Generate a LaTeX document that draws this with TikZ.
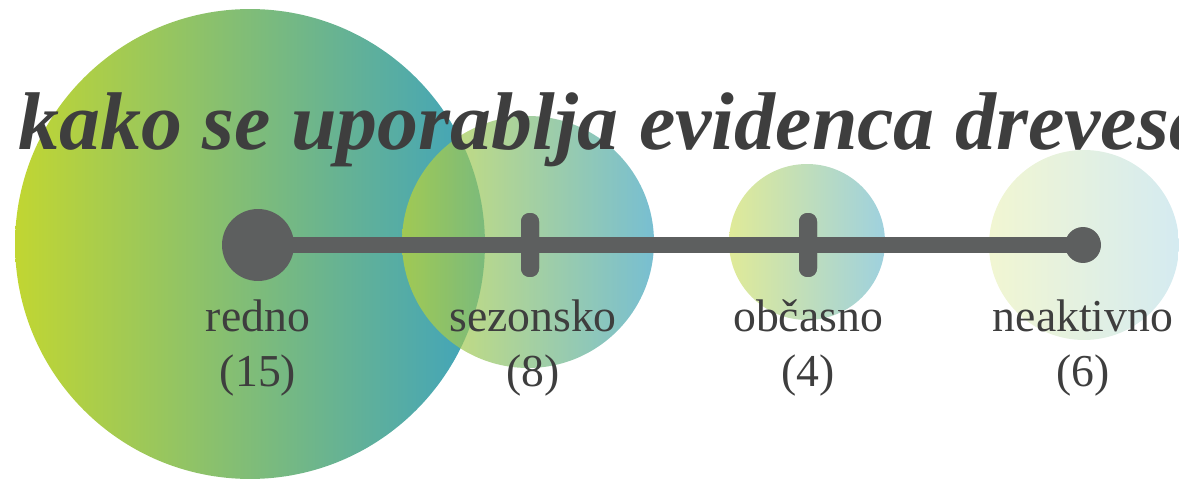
\documentclass[tikz,border=0pt]{standalone}
\usepackage{fontspec}
\setmainfont{Liberation Serif}
\usetikzlibrary{positioning}
\definecolor{leafgreen}{RGB}{193,214,50}
\definecolor{seateal}{RGB}{62,163,190}
\definecolor{linegray}{RGB}{93,95,95}
\definecolor{inkgray}{RGB}{62,62,62}
\tikzset{
	bubble/.style={left color=leafgreen, right color=seateal},
	enddot/.style={circle, fill=linegray, inner sep=0pt},
	notch/.style={rectangle, fill=linegray, inner sep=0pt, minimum width=0.36cm, minimum height=1.28cm, rounded corners=0.17cm},
	% stage names and counts under the line
	stagename/.style={anchor=base, inner sep=0pt, text=inkgray, font=\fontsize{26}{28}\selectfont},
	stagecount/.style={anchor=base, inner sep=0pt, text=inkgray, font=\fontsize{26}{28}\selectfont},
	headline/.style={anchor=base west, inner sep=0pt, text=inkgray, font=\fontsize{46.6}{50}\selectfont\bfseries\itshape},
}

\begin{document}
\begin{tikzpicture}[x=0.02cm, y=0.02cm]
	\useasboundingbox (0,0) rectangle (1179,480);
	\clip (0,0) rectangle (1179,480);
	
	% bubbles, one per stage
	\shade [bubble] (250,236) circle [radius=4.7cm];
	\shade [bubble, opacity=0.7] (528,238) circle [radius=2.52cm];
	\shade [bubble, opacity=0.5] (807,238) circle [radius=1.56cm];
	\shade [bubble, opacity=0.22] (1084,235) circle [radius=1.9cm];
	
	\node (title) [headline] at (18,330) {kako se uporablja evidenca drevesa?};
	
	\node (s1) [enddot, minimum size=1.44cm] at (258,235) {};
	\node (s2) [notch] at (530,235) {};
	\node (s3) [notch] at (808,235) {};
	\node (s4) [enddot, minimum size=0.72cm] at (1083,235) {};
	
	\draw [linegray, line width=0.32cm] (s1.center) -- (s4.center);
	\node [notch] at (s2) {};
	\node [notch] at (s3) {};
	
	\node (n1) [stagename] at ([yshift=-1.74cm]s1.center) {redno};
	\node (n2) [stagename] at ([yshift=-1.74cm, xshift=0.06cm]s2.center) {sezonsko};
	\node (n3) [stagename] at ([yshift=-1.74cm]s3.center) {občasno};
	\node (n4) [stagename] at ([yshift=-1.74cm]s4.center) {neaktivno};
	
	\node (c1) [stagecount] at ([yshift=-1.1cm]n1.base) {(15)};
	\node (c2) [stagecount] at ([yshift=-1.1cm]n2.base) {(8)};
	\node (c3) [stagecount] at ([yshift=-1.1cm]n3.base) {(4)};
	\node (c4) [stagecount] at ([yshift=-1.1cm]n4.base) {(6)};
	
\end{tikzpicture}
\end{document}
